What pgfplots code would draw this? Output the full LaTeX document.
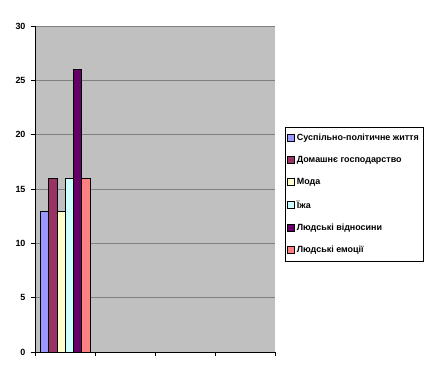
\documentclass[border=0pt]{standalone}
\usepackage{pgfplots}
\pgfplotsset{compat=1.18}
\usepackage{fontspec}
\setmainfont{Liberation Sans}

\definecolor{plotbg}{HTML}{C0C0C0}
\definecolor{gridc}{HTML}{808080}
\definecolor{cA}{HTML}{9999FF}
\definecolor{cB}{HTML}{993366}
\definecolor{cC}{HTML}{FFFFCC}
\definecolor{cD}{HTML}{CCFFFF}
\definecolor{cE}{HTML}{660066}
\definecolor{cF}{HTML}{FF8080}

\begin{document}
\begin{tikzpicture}[x=1bp,y=1bp]
\path[use as bounding box] (0,0) rectangle (439,382);
\begin{axis}[
  at={(35bp,30bp)}, anchor=south west,
  width=240bp, height=326bp, scale only axis,
  xmin=0, xmax=4, ymin=0, ymax=30,
  xtick={0,1,2,3,4}, xticklabels={},
  ytick={0,5,...,30},
  axis x line*=bottom, axis y line*=left,
  axis line style={black, line width=0.8pt, -},
  tick align=outside, major tick length=4bp,
  tick style={black, line width=0.8pt},
  ymajorgrids, grid style={gridc, line width=0.8pt},
  axis background/.style={fill=plotbg},
  /pgf/number format/assume math mode=true,
  ticklabel style={font=\fontsize{9}{10}\selectfont\bfseries},
  yticklabel style={xshift=-2bp},
  ybar=0pt, bar width=8.3bp,
  legend style={at={(1.042,0.69)}, anchor=north west,
    draw=black, fill=white, line width=0.6pt,
    font=\fontsize{9}{10}\selectfont\bfseries,
    row sep=10.3bp, inner xsep=2bp, inner ysep=5bp},
  legend cell align=left,
  legend image code/.code={\draw[#1, draw=black, line width=0.5pt] (0bp,-3bp) rectangle (7bp,4bp);},
]
\addplot[fill=cA, draw=black, line width=0.4pt] coordinates {(0.5,13)};
\addplot[fill=cB, draw=black, line width=0.4pt] coordinates {(0.5,16)};
\addplot[fill=cC, draw=black, line width=0.4pt] coordinates {(0.5,13)};
\addplot[fill=cD, draw=black, line width=0.4pt] coordinates {(0.5,16)};
\addplot[fill=cE, draw=black, line width=0.4pt] coordinates {(0.5,26)};
\addplot[fill=cF, draw=black, line width=0.4pt] coordinates {(0.5,16)};
\legend{Суспільно-політичне життя, Домашнє господарство, Мода, Їжа, Людські відносини, Людські емоції}
\end{axis}
\end{tikzpicture}
\end{document}
